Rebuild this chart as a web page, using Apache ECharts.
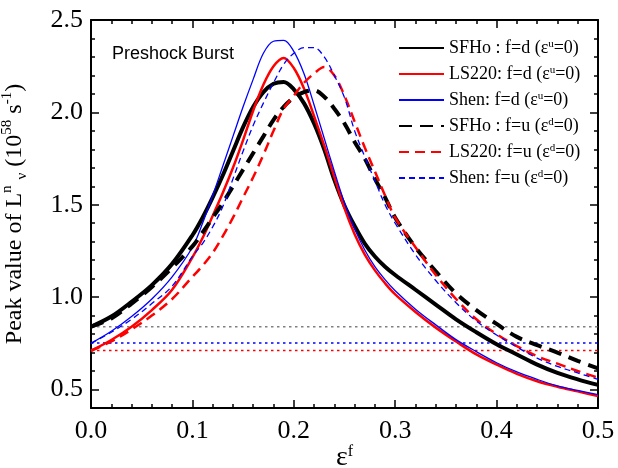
<!DOCTYPE html>
<html><head><meta charset="utf-8">
<script src="https://cdn.jsdelivr.net/npm/echarts@6/dist/echarts.min.js"></script>
<style>html,body{margin:0;padding:0;background:#fff}#c{width:618px;height:468px}</style>
</head><body><div id="c"></div>
<script>
// ε^f grid
const eps = [0,0.02,0.04,0.06,0.08,0.10,0.11,0.12,0.13,0.14,0.15,0.16,0.17,0.18,0.19,0.20,0.21,0.22,0.23,0.24,0.25,0.26,0.27,0.28,0.29,0.30,0.32,0.34,0.36,0.38,0.40,0.42,0.44,0.46,0.48,0.50];
// f=d (ε^u=0)
const sfhoD = [0.84,0.895,0.975,1.065,1.18,1.335,1.43,1.54,1.66,1.79,1.92,2.03,2.11,2.155,2.165,2.125,2.05,1.94,1.80,1.635,1.495,1.385,1.29,1.22,1.165,1.12,1.04,0.96,0.88,0.81,0.745,0.69,0.635,0.59,0.555,0.525];
const ls220D = [0.71,0.768,0.84,0.93,1.04,1.215,1.32,1.44,1.565,1.70,1.85,2.01,2.15,2.25,2.295,2.24,2.13,1.98,1.82,1.65,1.48,1.34,1.23,1.145,1.075,1.015,0.92,0.835,0.76,0.69,0.635,0.585,0.545,0.515,0.49,0.465];
const shenD = [0.75,0.815,0.895,0.99,1.11,1.27,1.40,1.55,1.71,1.87,2.03,2.18,2.32,2.385,2.39,2.33,2.21,2.04,1.86,1.68,1.51,1.37,1.255,1.165,1.095,1.035,0.935,0.85,0.77,0.705,0.645,0.595,0.555,0.52,0.495,0.472];
// f=u (ε^d=0)
const sfhoU = [0.84,0.885,0.965,1.055,1.16,1.275,1.35,1.43,1.51,1.60,1.69,1.78,1.87,1.96,2.03,2.08,2.11,2.12,2.085,2.02,1.94,1.84,1.75,1.64,1.54,1.43,1.27,1.14,1.02,0.93,0.855,0.785,0.74,0.70,0.655,0.615];
const ls220U = [0.71,0.76,0.825,0.90,0.99,1.11,1.17,1.24,1.33,1.43,1.54,1.65,1.77,1.90,2.02,2.09,2.16,2.21,2.245,2.20,2.09,1.95,1.81,1.68,1.55,1.43,1.27,1.12,0.99,0.88,0.80,0.735,0.68,0.64,0.60,0.565];
const shenU = [0.75,0.81,0.88,0.965,1.06,1.22,1.29,1.38,1.49,1.64,1.79,1.93,2.05,2.16,2.26,2.32,2.35,2.35,2.30,2.20,2.08,1.90,1.76,1.63,1.50,1.40,1.23,1.09,0.97,0.87,0.795,0.73,0.67,0.625,0.59,0.555];

const seriesLabels = ['SFHo : f=d (ε','LS220: f=d (ε','Shen: f=d (ε','SFHo : f=u (ε','LS220: f=u (ε','Shen: f=u (ε'];
const seriesSup = ['u','u','u','d','d','d'];
const refLevels = [0.84, 0.752, 0.711];
const yTickLabels = [0.5, 1.0, 1.5, 2.0, 2.5];
const annotation = 'Preshock Burst';

const values = [sfhoD, ls220D, shenD, sfhoU, ls220U, shenU];
const styles = [
  {color:'#000000', width:4, type:'solid'},
  {color:'#ff0000', width:2.5, type:'solid'},
  {color:'#0000ff', width:1.3, type:'solid'},
  {color:'#000000', width:4, type:[13,8]},
  {color:'#ff0000', width:2.5, type:[10,6]},
  {color:'#0000ff', width:1.3, type:[6,4]}
];
const refColors = ['#808080', '#0000ff', '#ff0000'];
const names = seriesLabels.map((s, i) => s + seriesSup[i] + '=0)');

const series = [];
refLevels.forEach((v, i) => {
  series.push({
    type:'line', name:'ref'+i, data:[[0, v],[0.5, v]], symbol:'none', silent:true,
    lineStyle:{color:refColors[i], width:1.5, type:[2.5,3.5]}, z:1
  });
});
values.forEach((arr, i) => {
  series.push({
    type:'line', name:names[i], data:eps.map((x, j) => [x, arr[j]]),
    symbol:'none', smooth:0.35, z:3+i,
    lineStyle:{color:styles[i].color, width:styles[i].width, type:styles[i].type},
    itemStyle:{color:styles[i].color}
  });
});

const serif = 'Liberation Serif';
const axLine = {show:true, lineStyle:{color:'#000', width:2}};
const tickStyle = {color:'#000', width:1.5};

const chart = echarts.init(document.getElementById('c'), null, {renderer:'canvas'});
chart.setOption({
  animation:false,
  backgroundColor:'#fff',
  grid:{left:91, right:20, top:20, bottom:60, containLabel:false, outerBoundsMode:'none'},
  legend:{
    orient:'vertical', left:393, top:34, itemWidth:45, itemHeight:14, itemGap:8,
    data:names,
    itemStyle:{opacity:0},
    formatter:(n) => { const i = names.indexOf(n); return '{t|' + seriesLabels[i] + '}{s|' + seriesSup[i] + '}{t|=0)}'; },
    textStyle:{fontFamily:serif, fontSize:18, color:'#000', lineHeight:18,
      rich:{t:{fontFamily:serif, fontSize:18, color:'#000', lineHeight:18},
            s:{fontFamily:serif, fontSize:11, color:'#000', lineHeight:18, verticalAlign:'top'}}}
  },
  graphic:[{type:'text', left:112, top:45, style:{text:annotation, fontFamily:'Liberation Sans', fontSize:18, fill:'#000'}}],
  xAxis:[
    {type:'value', min:0, max:0.5, interval:0.1, position:'bottom',
     axisLine:axLine, axisTick:{inside:true, length:8, lineStyle:tickStyle},
     minorTick:{show:true, splitNumber:5, length:4, lineStyle:tickStyle},
     splitLine:{show:false}, minorSplitLine:{show:false},
     axisLabel:{fontFamily:serif, fontSize:26, color:'#000', margin:10, formatter:(v) => v.toFixed(1)},
     name:'{e|ε}{s|f}', nameLocation:'middle', nameGap:36, nameMoveOverlap:false,
     nameTextStyle:{fontFamily:serif, fontSize:26, color:'#000',
       rich:{e:{fontFamily:serif, fontSize:28, color:'#000', lineHeight:28},
             s:{fontFamily:serif, fontSize:16, color:'#000', lineHeight:28, verticalAlign:'top'}}}},
    {type:'value', min:0, max:0.5, interval:0.1, position:'top',
     axisLine:axLine, axisTick:{inside:true, length:8, lineStyle:tickStyle},
     minorTick:{show:true, splitNumber:5, length:4, lineStyle:tickStyle},
     splitLine:{show:false}, axisLabel:{show:false}}
  ],
  yAxis:[
    {type:'value', min:0.4, max:2.5, interval:0.1, position:'left',
     axisLine:axLine, axisTick:{inside:true, length:4, lineStyle:tickStyle},
     splitLine:{show:false},
     axisLabel:{customValues:yTickLabels, fontFamily:serif, fontSize:26, color:'#000', margin:8, formatter:(v) => v.toFixed(1)},
     name:'{t|Peak value of L}{p|n}{t| }{b|ν}{t| (10}{p|58}{t| s}{p|-1}{t|)}',
     nameLocation:'middle', nameRotate:90, nameGap:61, nameMoveOverlap:false,
     nameTextStyle:{fontFamily:serif, fontSize:24, color:'#000',
       rich:{t:{fontFamily:serif, fontSize:24, color:'#000', lineHeight:30},
             p:{fontFamily:serif, fontSize:15, color:'#000', lineHeight:30, verticalAlign:'top'},
             b:{fontFamily:serif, fontSize:15, color:'#000', lineHeight:30, verticalAlign:'bottom'}}}},
    {type:'value', min:0.4, max:2.5, position:'left',
     axisLine:{show:false}, axisTick:{inside:true, length:8, lineStyle:tickStyle, customValues:yTickLabels},
     splitLine:{show:false}, axisLabel:{show:false}},
    {type:'value', min:0.4, max:2.5, interval:0.1, position:'right',
     axisLine:axLine, axisTick:{inside:true, length:4, lineStyle:tickStyle},
     splitLine:{show:false}, axisLabel:{show:false}},
    {type:'value', min:0.4, max:2.5, position:'right',
     axisLine:{show:false}, axisTick:{inside:true, length:8, lineStyle:tickStyle, customValues:yTickLabels},
     splitLine:{show:false}, axisLabel:{show:false}}
  ],
  series:series
});
</script></body></html>
